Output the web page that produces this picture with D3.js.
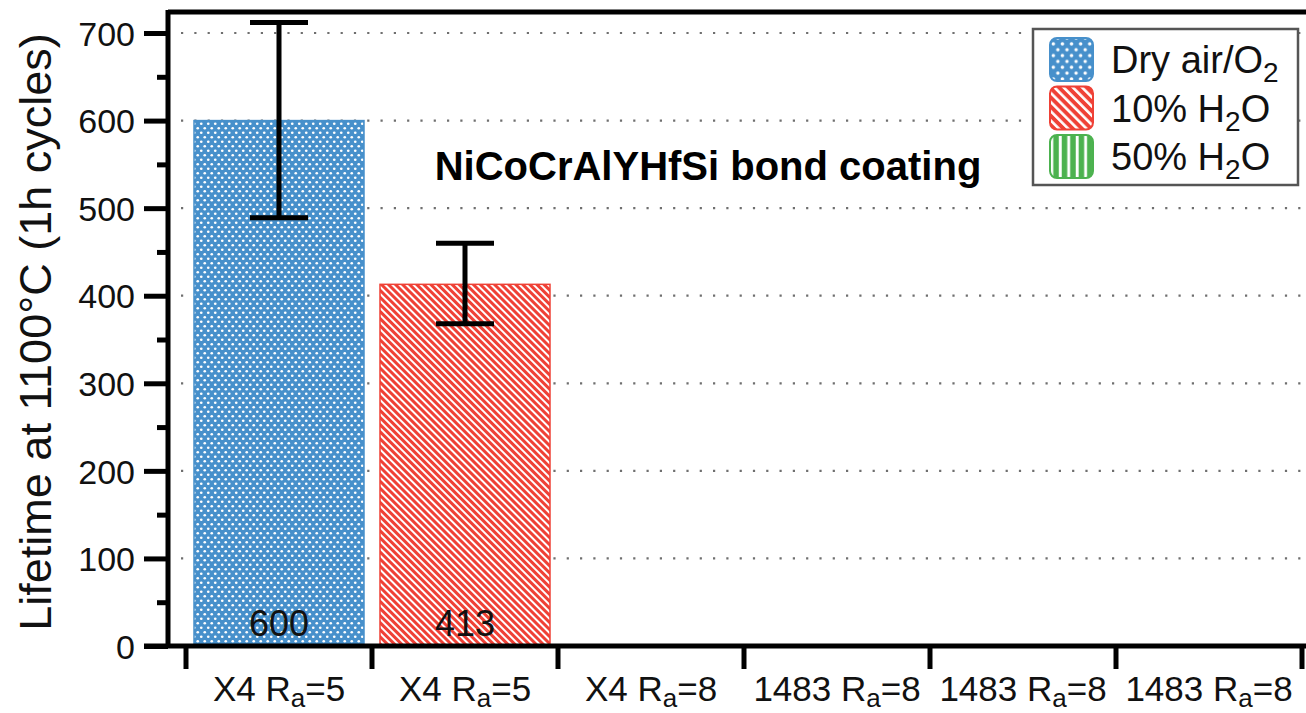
<!DOCTYPE html>
<html>
<head>
<meta charset="utf-8">
<script src="https://cdn.jsdelivr.net/npm/d3@7"></script>
<style>
  html, body { margin: 0; padding: 0; background: #fff; }
  svg { display: block; font-family: "Liberation Sans", Arial, Helvetica, sans-serif; }
</style>
</head>
<body>
<svg id="chart" width="1306" height="713"></svg>
<script>
// Sample groups along the x axis ("_a" marks a subscript)
const categories = ["X4 R_a=5", "X4 R_a=5", "X4 R_a=8", "1483 R_a=8", "1483 R_a=8", "1483 R_a=8"];
// Test atmosphere of each group (index into the legend), null = not tested
const conditionIndex = [0, 1, null, null, null, null];
// Mean lifetime (1h cycles) and error-bar limits
const lifetimes = [600, 413, null, null, null, null];
const errLower = [489, 368, null, null, null, null];
const errUpper = [712, 460, null, null, null, null];
// Legend entries ("_2" marks a subscript)
const legendNames = ["Dry air/O_2", "10% H_2O", "50% H_2O"];
const legendColors = ["#4790cb", "#ef4136", "#4cb24f"];
const legendPatterns = ["dots", "diag", "vert"];
// Y axis ticks
const yMajorTicks = [0, 100, 200, 300, 400, 500, 600, 700];
const yMinorTicks = [50, 150, 250, 350, 450, 550, 650];
const chartTitle = "NiCoCrAlYHfSi bond coating";
const yTitle = "Lifetime at 1100°C (1h cycles)";

const svg = d3.select("#chart");
const defs = svg.append("defs");

// Writes text with "_x" subscripts into a <text> element
function richText(sel, str, subSize, shift) {
  const parts = str.split(/_(.)/);
  parts.forEach((p, i) => {
    if (!p) return;
    const isSub = i % 2 === 1;
    const t = sel.append("tspan").text(p);
    if (isSub) {
      t.attr("font-size", subSize).attr("dy", shift);
    } else if (i >= 2) {
      t.attr("dy", -shift);
    }
  });
}

// Fill patterns: white dots, diagonal hatching and vertical hatching
function makePattern(id, kind, color, scale) {
  let p;
  if (kind === "dots") {
    p = defs.append("pattern").attr("id", id).attr("patternUnits", "userSpaceOnUse")
      .attr("width", 7).attr("height", 9)
      .attr("patternTransform", `scale(${scale})`);
    p.append("rect").attr("width", 7).attr("height", 9).attr("fill", color);
    p.append("circle").attr("cx", 1.75).attr("cy", 2.25).attr("r", 1.35).attr("fill", "#fff");
    p.append("circle").attr("cx", 5.25).attr("cy", 6.75).attr("r", 1.35).attr("fill", "#fff");
  } else if (kind === "diag") {
    p = defs.append("pattern").attr("id", id).attr("patternUnits", "userSpaceOnUse")
      .attr("width", 5).attr("height", 10)
      .attr("patternTransform", `rotate(-45) scale(${scale})`);
    p.append("rect").attr("width", 5).attr("height", 10).attr("fill", color);
    p.append("rect").attr("x", 0).attr("width", 2).attr("height", 10).attr("fill", "#fff");
  } else {
    p = defs.append("pattern").attr("id", id).attr("patternUnits", "userSpaceOnUse")
      .attr("width", 6.5).attr("height", 10)
      .attr("patternTransform", `scale(${scale})`);
    p.append("rect").attr("width", 6.5).attr("height", 10).attr("fill", color);
    p.append("rect").attr("x", 2).attr("width", 2.2).attr("height", 10).attr("fill", "#fff");
  }
}
legendPatterns.forEach((k, i) => {
  makePattern("bar-" + k, k, legendColors[i], 1);
  makePattern("leg-" + k, k, legendColors[i], 1.3);
});

// Scales
const y = d3.scaleLinear().domain([0, 724]).range([646, 12]);
const x = d3.scaleBand().domain(d3.range(categories.length))
  .range([186, 1302]).paddingInner(0.086).paddingOuter(0.043);
const step = x.step();
const axisX = 168;

// Dotted horizontal grid lines
svg.append("g").selectAll("line").data(yMajorTicks.filter(d => d > 0)).join("line")
  .attr("x1", axisX + 13).attr("x2", 1306)
  .attr("y1", d => y(d)).attr("y2", d => y(d))
  .attr("stroke", "#6f6f6f").attr("stroke-width", 2.2)
  .attr("stroke-dasharray", "2.2,11.1");

// Bars
const barIdx = d3.range(categories.length).filter(i => lifetimes[i] != null);
svg.append("g").selectAll("rect").data(barIdx).join("rect")
  .attr("x", i => x(i)).attr("width", x.bandwidth())
  .attr("y", i => y(lifetimes[i])).attr("height", i => y(0) - y(lifetimes[i]))
  .attr("fill", i => `url(#bar-${legendPatterns[conditionIndex[i]]})`)
  .attr("stroke", i => legendColors[conditionIndex[i]]).attr("stroke-width", 1.5);

// Value labels at the foot of the bars
svg.append("g").selectAll("text").data(barIdx).join("text")
  .attr("x", i => x(i) + x.bandwidth() / 2).attr("y", 636)
  .attr("text-anchor", "middle").attr("font-size", 36).attr("fill", "#111")
  .text(i => lifetimes[i]);

// Error bars
const eb = svg.append("g").attr("stroke", "#000").attr("stroke-width", 5);
barIdx.forEach(i => {
  const cx = x(i) + x.bandwidth() / 2;
  eb.append("line").attr("x1", cx).attr("x2", cx).attr("y1", y(errUpper[i])).attr("y2", y(errLower[i]));
  [errUpper[i], errLower[i]].forEach(v => {
    eb.append("line").attr("x1", cx - 29).attr("x2", cx + 29).attr("y1", y(v)).attr("y2", y(v));
  });
});

// Frame: top border, y axis line, x axis line
const frame = svg.append("g").attr("stroke", "#000").attr("stroke-width", 5);
frame.append("line").attr("x1", axisX).attr("x2", 1310).attr("y1", 12).attr("y2", 12);
frame.append("line").attr("x1", axisX).attr("x2", axisX).attr("y1", 10).attr("y2", y(0) + 2);
frame.append("line").attr("x1", 144).attr("x2", 1310).attr("y1", y(0)).attr("y2", y(0));

// Y axis ticks and labels
const yAxis = d3.axisLeft(y).tickValues(yMajorTicks).tickSize(24).tickPadding(9);
const gy = svg.append("g").attr("transform", `translate(${axisX},0)`).call(yAxis);
gy.select(".domain").remove();
gy.selectAll(".tick line").attr("stroke", "#000").attr("stroke-width", 5);
gy.selectAll(".tick text").attr("font-size", 34).attr("fill", "#111").attr("font-family", null).attr("dy", "0.36em");
const yMinor = d3.axisLeft(y).tickValues(yMinorTicks).tickSize(11).tickFormat("");
const gym = svg.append("g").attr("transform", `translate(${axisX},0)`).call(yMinor);
gym.select(".domain").remove();
gym.selectAll(".tick line").attr("stroke", "#000").attr("stroke-width", 5);

// X axis: ticks at group boundaries, labels centred under each group
const bounds = d3.range(categories.length + 1).map(i => 186 + i * step);
svg.append("g").selectAll("line").data(bounds).join("line")
  .attr("x1", d => d).attr("x2", d => d).attr("y1", y(0)).attr("y2", y(0) + 23)
  .attr("stroke", "#000").attr("stroke-width", 5);
svg.append("g").selectAll("text").data(d3.range(categories.length)).join("text")
  .attr("x", i => x(i) + x.bandwidth() / 2).attr("y", 701)
  .attr("text-anchor", "middle").attr("font-size", 35).attr("fill", "#111")
  .each(function (i) { richText(d3.select(this), categories[i], 26, 6); });

// Title inside the plot
svg.append("text").attr("x", 708).attr("y", 180).attr("text-anchor", "middle")
  .attr("font-size", 40).attr("font-weight", "bold").attr("fill", "#000").text(chartTitle);

// Y axis title
svg.append("text").attr("transform", "translate(51,332) rotate(-90)")
  .attr("text-anchor", "middle").attr("font-size", 45).attr("fill", "#111").text(yTitle);

// Legend
const lg = svg.append("g");
lg.append("rect").attr("x", 1033).attr("y", 29).attr("width", 265).attr("height", 156)
  .attr("fill", "#fff").attr("stroke", "#555").attr("stroke-width", 2.5);
legendNames.forEach((name, i) => {
  const yy = 38 + i * 48.5;
  lg.append("rect").attr("x", 1050).attr("y", yy).attr("width", 43).attr("height", 43)
    .attr("rx", 7).attr("fill", `url(#leg-${legendPatterns[i]})`)
    .attr("stroke", legendColors[i]).attr("stroke-width", 2);
  const t = lg.append("text").attr("x", 1111).attr("y", yy + 35)
    .attr("font-size", 38).attr("fill", "#111");
  richText(t, name, 28, 9);
});
</script>
</body>
</html>
